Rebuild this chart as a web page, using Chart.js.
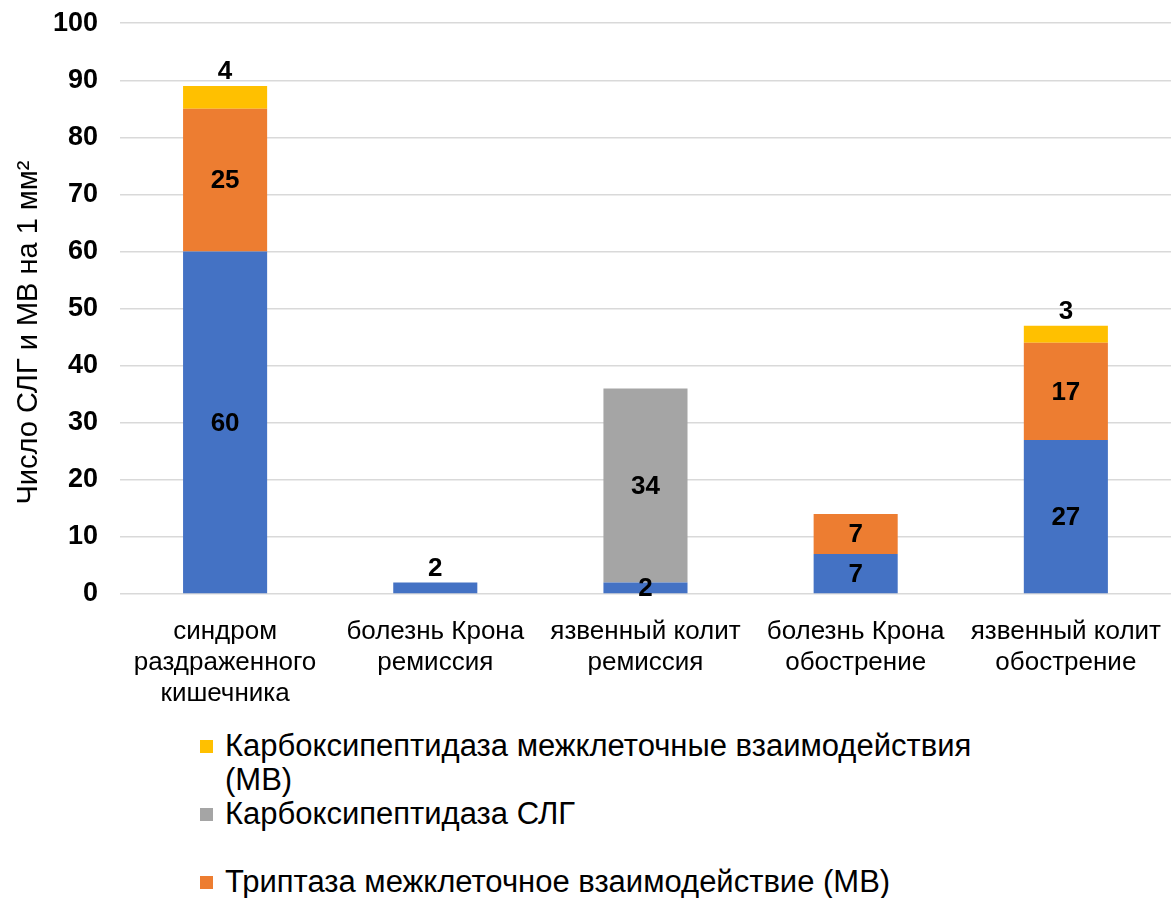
<!DOCTYPE html>
<html>
<head>
<meta charset="utf-8">
<script src="https://cdn.jsdelivr.net/npm/chart.js@4/dist/chart.umd.min.js"></script>
<style>
  html, body { margin: 0; padding: 0; background: #fff; overflow: hidden; }
  #wrap { position: relative; width: 1171px; height: 898px; overflow: hidden; font-family: "Liberation Sans", Arial, sans-serif; }
  #box { position: absolute; left: 0; top: -15px; width: 1175px; height: 727px; }
  #legend { position: absolute; left: 200px; top: 729px; }
  .item { position: relative; height: 68px; width: 820px; }
  .sw { position: absolute; left: 0; top: 11px; width: 13px; height: 13px; }
  .txt { position: absolute; left: 25px; top: 0; width: 790px; font-size: 31px; line-height: 34px; color: #000; }
</style>
</head>
<body>
<div id="wrap">
  <div id="box"><canvas id="barChart"></canvas></div>
  <div id="legend"></div>
</div>
<script>
// categories and values
const categories = [
  ['синдром', 'раздраженного', 'кишечника'],
  ['болезнь Крона', 'ремиссия'],
  ['язвенный колит', 'ремиссия'],
  ['болезнь Крона', 'обострение'],
  ['язвенный колит', 'обострение']
];
const tryptaseSLG = [60, 2, 2, 7, 27];
const tryptaseMV = [25, 0, 0, 7, 17];
const carboxySLG = [0, 0, 34, 0, 0];
const carboxyMV = [4, 0, 0, 0, 3];
const yTicks = [0, 10, 20, 30, 40, 50, 60, 70, 80, 90, 100];
const yTitle = 'Число СЛГ и МВ на 1 мм²';

const FONT = '"Liberation Sans", Arial, sans-serif';

const datasets = [
  { label: 'Триптаза СЛГ', data: tryptaseSLG, backgroundColor: '#4472C4' },
  { label: 'Триптаза межклеточное взаимодействие (МВ)', data: tryptaseMV, backgroundColor: '#ED7D31' },
  { label: 'Карбоксипептидаза СЛГ', data: carboxySLG, backgroundColor: '#A5A5A5' },
  { label: 'Карбоксипептидаза межклеточные взаимодействия (МВ)', data: carboxyMV, backgroundColor: '#FFC000' }
];

// value labels: centered, or above the stack when the top piece is too thin
const valueLabels = {
  id: 'valueLabels',
  afterDatasetsDraw(chart) {
    const ctx = chart.ctx;
    ctx.save();
    ctx.font = 'bold 26px ' + FONT;
    ctx.fillStyle = '#000';
    ctx.textAlign = 'center';
    chart.data.datasets.forEach((ds, di) => {
      const meta = chart.getDatasetMeta(di);
      meta.data.forEach((bar, i) => {
        const v = ds.data[i];
        if (!v) return;
        let isTop = true;
        for (let k = di + 1; k < chart.data.datasets.length; k++) {
          if (chart.data.datasets[k].data[i]) isTop = false;
        }
        const h = bar.base - bar.y;
        if (isTop && h < 30) {
          ctx.textBaseline = 'bottom';
          ctx.fillText(v, bar.x, bar.y - 1);
        } else {
          ctx.textBaseline = 'middle';
          ctx.fillText(v, bar.x, (bar.y + bar.base) / 2 + 1);
        }
      });
    });
    ctx.restore();
  }
};

// y axis title, drawn by hand so it can sit a bit lower like in the original
const axisTitle = {
  id: 'axisTitle',
  afterDraw(chart) {
    const ctx = chart.ctx;
    const a = chart.chartArea;
    ctx.save();
    ctx.translate(29, (a.top + a.bottom) / 2 + 24);
    ctx.rotate(-Math.PI / 2);
    ctx.font = '29px ' + FONT;
    ctx.fillStyle = '#000';
    ctx.textAlign = 'center';
    ctx.textBaseline = 'middle';
    ctx.fillText(yTitle, 0, 0);
    ctx.restore();
  }
};

new Chart(document.getElementById('barChart'), {
  type: 'bar',
  data: { labels: categories, datasets: datasets },
  plugins: [valueLabels, axisTitle],
  options: {
    responsive: true,
    maintainAspectRatio: false,
    animation: false,
    layout: { padding: 0 },
    datasets: { bar: { categoryPercentage: 0.4, barPercentage: 1.0 } },
    plugins: { legend: { display: false }, tooltip: { enabled: false } },
    scales: {
      x: {
        stacked: true,
        grid: { display: false },
        border: { display: false },
        ticks: { color: '#000', font: { family: FONT, size: 26, lineHeight: 1.2 }, padding: 14, maxRotation: 0, autoSkip: false },
        afterFit(scale) { scale.height = 118; }
      },
      y: {
        stacked: true,
        min: 0,
        max: 100,
        afterBuildTicks(scale) { scale.ticks = yTicks.map(v => ({ value: v })); },
        grid: { color: '#D9D9D9', lineWidth: 1.5, drawTicks: false },
        border: { display: false },
        ticks: { color: '#000', font: { family: FONT, size: 27, weight: 'bold' }, padding: 22 },
        afterFit(scale) { scale.width = 120; }
      }
    }
  }
});

// legend below the chart, listed from the top of the stack down
const legend = document.getElementById('legend');
datasets.slice().reverse().forEach(ds => {
  const item = document.createElement('div');
  item.className = 'item';
  const sw = document.createElement('div');
  sw.className = 'sw';
  sw.style.background = ds.backgroundColor;
  const txt = document.createElement('div');
  txt.className = 'txt';
  txt.textContent = ds.label;
  item.appendChild(sw);
  item.appendChild(txt);
  legend.appendChild(item);
});
</script>
</body>
</html>
